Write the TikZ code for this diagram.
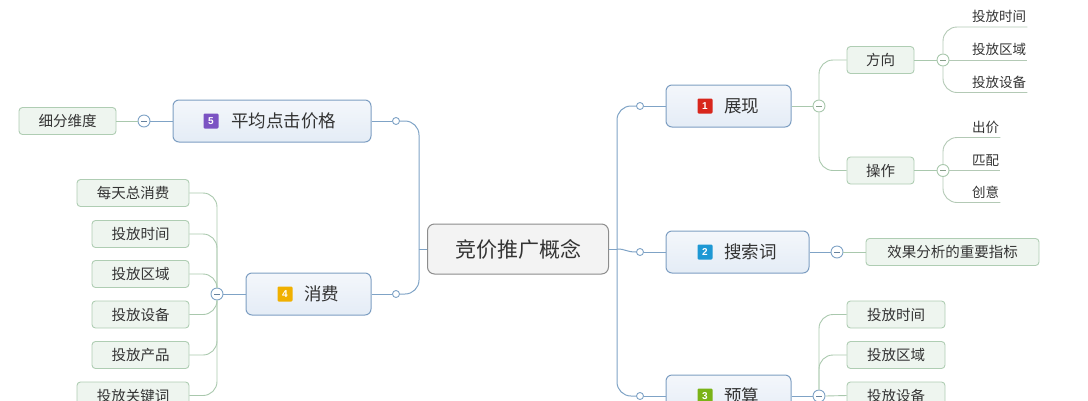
\documentclass[tikz,border=0pt]{standalone}
\usepackage{fontspec}
\setmainfont{Noto Sans CJK SC}
\newfontfamily\digitfont{Liberation Sans}
\begin{document}
\begin{tikzpicture}[x=1pt,y=-1pt,
  bline/.style={draw=blueln, line width=1pt},
  gline/.style={draw=greenln, line width=0.9pt},
  centerbox/.style={draw=centerbd, fill=centerfl, rounded corners=7pt, line width=1pt, minimum width=181pt, minimum height=50pt, inner sep=0pt, font=\fontsize{21}{21}\selectfont, text=textc},
  mainbox/.style={draw=mainbd, top color=mainfltop, bottom color=mainflbot, rounded corners=6pt, line width=1pt, minimum height=42pt, inner sep=0pt},
  maintext/.style={inner sep=0pt, font=\fontsize{17.5}{17.5}\selectfont, text=textc, anchor=west},
  numicon/.style={minimum size=15pt, inner sep=0pt, rounded corners=1.2pt, text=white, font=\digitfont\bfseries\fontsize{10}{10}\selectfont},
  leafbox/.style={draw=greenbd, fill=greenfl, rounded corners=3.5pt, line width=0.9pt, minimum height=27pt, inner sep=0pt, font=\fontsize{14.5}{14.5}\selectfont, text=textc},
  leaftext/.style={inner xsep=1pt, inner ysep=0pt, minimum height=20pt, anchor=south west, font=\fontsize{13.5}{13.5}\selectfont, text=textc},
  dotc/.style={circle, draw=blueln, fill=white, line width=0.9pt, minimum size=7pt, inner sep=0pt},
  minusb/.style={circle, draw=#1, fill=white, line width=0.9pt, minimum size=12pt, inner sep=0pt,
     path picture={\draw[line width=1pt, draw=#1!80!black] ([xshift=-3pt]path picture bounding box.center) -- ([xshift=3pt]path picture bounding box.center);}},
]
\definecolor{blueln}{HTML}{7FA3C6}
\definecolor{greenln}{HTML}{A9C8AD}
\definecolor{greenbd}{HTML}{AFCDB3}
\definecolor{greenfl}{HTML}{EEF5EF}
\definecolor{centerbd}{HTML}{8C8C8C}
\definecolor{centerfl}{HTML}{F3F3F3}
\definecolor{mainbd}{HTML}{7D9EC2}
\definecolor{mainfltop}{HTML}{F4F7FB}
\definecolor{mainflbot}{HTML}{E4ECF6}
\definecolor{textc}{HTML}{333333}
\definecolor{ic1}{HTML}{D8261C}
\definecolor{ic2}{HTML}{1E98D4}
\definecolor{ic3}{HTML}{7AB317}
\definecolor{ic4}{HTML}{F0B000}
\definecolor{ic5}{HTML}{7B53C3}
\definecolor{ulc}{HTML}{B3C9B5}

\useasboundingbox (0,0) rectangle (1088,400);

% central
\node[centerbox] (c) at (518,249) {竞价推广概念};
\coordinate (cr) at ([xshift=8pt]c.east);
\coordinate (cl) at ([xshift=-8pt]c.west);

% main boxes
\node[mainbox, minimum width=125pt] (n1) at (728.5,106) {};
\node[numicon, fill=ic1] (i1) at (705,106) {1};
\node[maintext] (t1) at (724,106) {展现};

\node[mainbox, minimum width=143pt] (n2) at (737.5,252) {};
\node[numicon, fill=ic2] (i2) at (705,252) {2};
\node[maintext] (t2) at (724,252) {搜索词};

\node[mainbox, minimum width=125pt] (n3) at (728.5,396) {};
\node[numicon, fill=ic3] (i3) at (705,396) {3};
\node[maintext] (t3) at (724,396) {预算};

\node[mainbox, minimum width=198pt] (n5) at (272,121) {};
\node[numicon, fill=ic5] (i5) at (211,121) {5};
\node[maintext] (t5) at (231,121) {平均点击价格};

\node[mainbox, minimum width=125pt] (n4) at (308.5,294) {};
\node[numicon, fill=ic4] (i4) at (285,294) {4};
\node[maintext] (t4) at (304,294) {消费};

% trunk dots
\node[dotc] (d1) at (640,106) {};
\node[dotc] (d2) at (640,252) {};
\node[dotc] (d3) at (640,396) {};
\node[dotc] (d5) at (396,121) {};
\node[dotc] (d4) at (396,294) {};

\draw[bline] (c.east) -- (cr);
\draw[bline] (c.west) -- (cl);
\draw[bline, rounded corners=14pt] (cr) |- (d1.west);
\draw[bline, rounded corners=14pt] (cr) |- (d3.west);
\draw[bline] (cr) .. controls (626,249) and (626,252) .. (d2.west);
\draw[bline, rounded corners=14pt] (cl) |- (d5.east);
\draw[bline, rounded corners=14pt] (cl) |- (d4.east);
\draw[bline] (d1) -- (n1);
\draw[bline] (d2) -- (n2);
\draw[bline] (d3) -- (n3);
\draw[bline] (d5) -- (n5);
\draw[bline] (d4) -- (n4);

% ---- 展现 branch
\node[minusb=greenln] (m1) at (819,106) {};
\node[leafbox, minimum width=67pt] (fx) at (880.5,60) {方向};
\node[leafbox, minimum width=67pt] (cz) at (880.5,170.5) {操作};
\draw[gline] (n1.east) -- (m1.west);
\draw[gline, rounded corners=14pt] (m1.north) |- (fx.west);
\draw[gline, rounded corners=14pt] (m1.south) |- (cz.west);

\node[minusb=greenln] (m2) at (943,60) {};
\node[minusb=greenln] (m3) at (943,170.5) {};
\draw[gline] (fx.east) -- (m2.west);
\draw[gline] (cz.east) -- (m3.west);

\node[leaftext] (a1) at (971,27) {投放时间};
\node[leaftext] (a2) at (971,60) {投放区域};
\node[leaftext] (a3) at (971,92.5) {投放设备};
\node[leaftext] (b1) at (971,137.5) {出价};
\node[leaftext] (b2) at (971,170.5) {匹配};
\node[leaftext] (b3) at (971,202.5) {创意};
\draw[draw=ulc, line width=0.9pt, rounded corners=14pt] (m2.north) |- (a1.south west) -- (a1.south east);
\draw[draw=ulc, line width=0.9pt] (m2.east) -- (a2.south east);
\draw[draw=ulc, line width=0.9pt, rounded corners=14pt] (m2.south) |- (a3.south west) -- (a3.south east);
\draw[draw=ulc, line width=0.9pt, rounded corners=14pt] (m3.north) |- (b1.south west) -- (b1.south east);
\draw[draw=ulc, line width=0.9pt] (m3.east) -- (b2.south east);
\draw[draw=ulc, line width=0.9pt, rounded corners=14pt] (m3.south) |- (b3.south west) -- (b3.south east);

% ---- 搜索词 branch
\node[minusb=blueln] (m6) at (837,252) {};
\node[leafbox, minimum width=173pt] (xg) at (952.5,252) {效果分析的重要指标};
\draw[bline] (n2.east) -- (m6.west);
\draw[gline] (m6.east) -- (xg.west);

% ---- 预算 branch
\node[minusb=blueln] (m7) at (819,396) {};
\node[leafbox, minimum width=98pt] (r1) at (896,314.5) {投放时间};
\node[leafbox, minimum width=98pt] (r2) at (896,355) {投放区域};
\node[leafbox, minimum width=98pt] (r3) at (896,395.5) {投放设备};
\draw[bline] (n3.east) -- (m7.west);
\draw[gline, rounded corners=14pt] (m7.north) |- (r1.west);
\draw[gline, rounded corners=14pt] (m7.north) |- (r2.west);
\draw[gline] (m7.east) -- (r3.west);

% ---- 平均点击价格 branch
\node[minusb=blueln] (m5) at (144,121) {};
\node[leafbox, minimum width=97pt] (xf) at (67.5,121) {细分维度};
\draw[bline] (n5.west) -- (m5.east);
\draw[gline] (m5.west) -- (xf.east);

% ---- 消费 branch
\node[minusb=blueln] (m4) at (217,294) {};
\node[leafbox, minimum width=112pt] (s1) at (133,193) {每天总消费};
\node[leafbox, minimum width=97pt] (s2) at (140.5,234) {投放时间};
\node[leafbox, minimum width=97pt] (s3) at (140.5,274) {投放区域};
\node[leafbox, minimum width=97pt] (s4) at (140.5,314.5) {投放设备};
\node[leafbox, minimum width=97pt] (s5) at (140.5,355) {投放产品};
\node[leafbox, minimum width=112pt] (s6) at (133,395.5) {投放关键词};
\draw[bline] (n4.west) -- (m4.east);
\draw[gline, rounded corners=14pt] (s1.east) -| (m4.north);
\draw[gline, rounded corners=14pt] (s2.east) -| (m4.north);
\draw[gline, rounded corners=14pt] (s3.east) -| (m4.north);
\draw[gline, rounded corners=14pt] (s4.east) -| (m4.south);
\draw[gline, rounded corners=14pt] (s5.east) -| (m4.south);
\draw[gline, rounded corners=14pt] (s6.east) -| (m4.south);
\end{tikzpicture}
\end{document}
